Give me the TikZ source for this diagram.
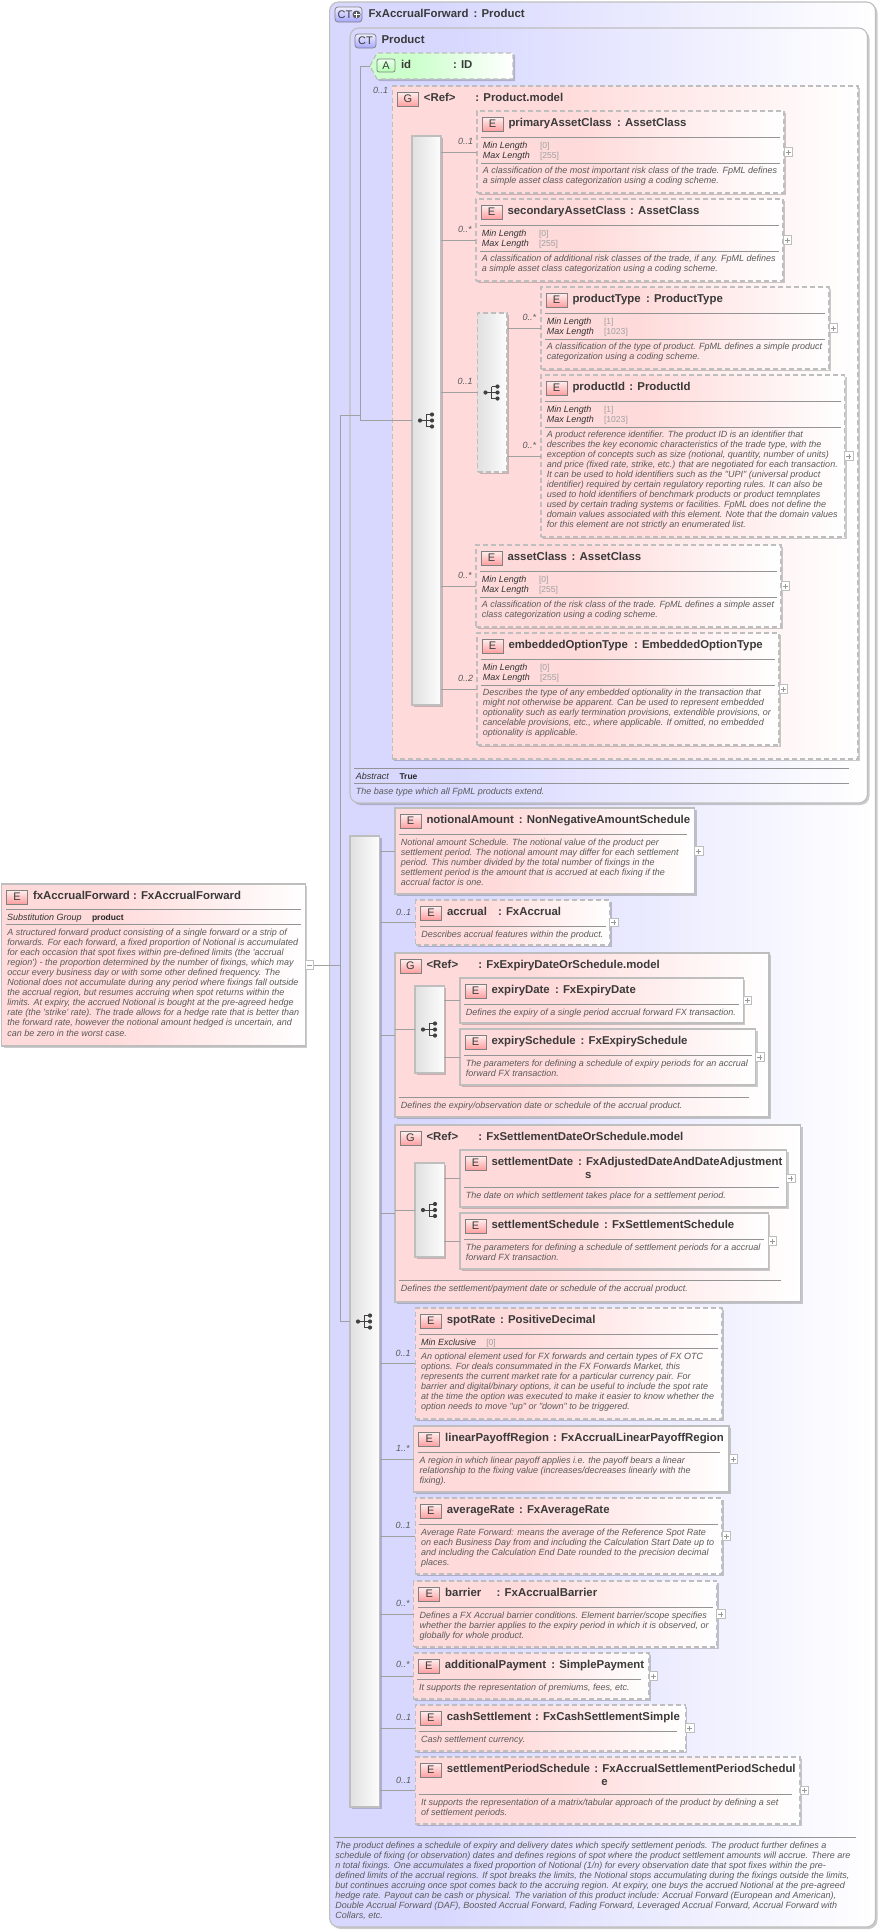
\documentclass[tikz,border=0pt]{standalone}
\usepackage{fontspec}
\usetikzlibrary{shadows}
\newfontfamily\lsans{Liberation Sans}
\definecolor{pk}{HTML}{FFDADA}
\definecolor{bl}{HTML}{D8D8FF}
\definecolor{gn}{HTML}{CCFFCC}
\definecolor{bord}{HTML}{BEBEBE}
\definecolor{conn}{HTML}{A0A0A0}
\definecolor{namec}{HTML}{3A3A3A}
\definecolor{descc}{HTML}{5A5A5A}
\definecolor{facc}{HTML}{333333}
\definecolor{valc}{HTML}{A0A0A0}
\pgfdeclarehorizontalshading{pinkshade}{100bp}{color(0bp)=(pk); color(25bp)=(pk); color(42bp)=(pk); color(75bp)=(white); color(100bp)=(white)}
\pgfdeclarehorizontalshading{blueshade}{100bp}{color(0bp)=(bl); color(25bp)=(bl); color(35bp)=(bl); color(75bp)=(white); color(100bp)=(white)}
\pgfdeclarehorizontalshading{greenshade}{100bp}{color(0bp)=(gn); color(25bp)=(gn); color(40bp)=(gn); color(75bp)=(white); color(100bp)=(white)}
\tikzset{
  bxbase/.style={inner sep=0pt,outer sep=0pt,anchor=north west,draw=bord,line width=1.1pt,
    drop shadow={shadow xshift=2pt,shadow yshift=-2pt,opacity=.2,fill=black}},
  solidpink/.style={bxbase,shade,shading=pinkshade},
  dashpink/.style={bxbase,shade,shading=pinkshade,dash pattern=on 5pt off 3pt},
  ctbox/.style={bxbase,shade,shading=blueshade,rounded corners=9pt},
  seqsolid/.style={bxbase,left color=black!12,right color=black!1},
  seqdash/.style={bxbase,left color=black!12,right color=black!1,dash pattern=on 5pt off 3pt},
  iconbase/.style={inner sep=0pt,outer sep=0pt,anchor=north west,minimum width=21pt,minimum height=14pt,draw=black!50,line width=.7pt,text=namec,font=\lsans\fontsize{11}{11}\selectfont},
  eicon/.style={iconbase,top color=red!6,bottom color=red!38},
  cticon/.style={iconbase,top color=blue!6,bottom color=blue!35,rounded corners=3pt},
  aicon/.style={iconbase,minimum width=18pt,top color=green!8,bottom color=green!30,rounded corners=2pt},
  nametext/.style={inner sep=0pt,outer sep=0pt,anchor=base west,text=namec,font=\lsans\bfseries\fontsize{11.4}{11.4}\selectfont},
  desctext/.style={inner sep=0pt,outer sep=0pt,anchor=north west,align=left,text=descc,font=\lsans\itshape\fontsize{9}{10.1}\selectfont},
  factext/.style={inner sep=0pt,outer sep=0pt,anchor=base west,text=facc,font=\lsans\itshape\fontsize{9}{10}\selectfont},
  valtext/.style={inner sep=0pt,outer sep=0pt,anchor=base west,text=valc,font=\lsans\fontsize{8.6}{10}\selectfont},
  boldval/.style={inner sep=0pt,outer sep=0pt,anchor=base west,text=black!85,font=\lsans\bfseries\fontsize{8.5}{10}\selectfont},
  multtext/.style={inner sep=0pt,outer sep=0pt,anchor=base west,text=descc,font=\lsans\itshape\fontsize{9}{10}\selectfont},
  conline/.style={draw=conn,line width=.8pt},
  sepline/.style={draw=black!42,line width=.7pt},
  plusbox/.style={inner sep=0pt,outer sep=0pt,anchor=west,minimum size=8.5pt,draw=bord,fill=white,line width=.7pt},
  pluslin/.style={draw=black!40,line width=.6pt}
}
\newcounter{tn}
\newcommand\bx[6]{%
  \pgfmathsetmacro\bw{#4-#2}\pgfmathsetmacro\bh{#5-#3}%
  \node[#6,minimum width=\bw pt,minimum height=\bh pt] (#1) at (#2,#3) {};%
  \def\cn{#1}\def\cx{#2}\def\cy{#3}\def\cX{#4}}
\newcommand\hd[5]{%
  \stepcounter{tn}%
  \node[#1] (ic\arabic{tn}) at ({\cx+5},{\cy+6}) {#2};%
  \node[nametext] (ti\arabic{tn}) at ({\cx+31.5},{\cy+15}) {#3};%
  \node[nametext] (ty\arabic{tn}) at (#4,{\cy+15}) {#5};}
\newcommand\hdx[2]{\stepcounter{tn}\node[nametext] (tz\arabic{tn}) at (#1,{\cy+28}) {#2};}
\newcommand\seph[2]{\draw[sepline] ({\cx+4},{\cy+#1}) -- ({\cX-#2},{\cy+#1});}
\newcommand\desc[2]{\stepcounter{tn}\node[desctext] (de\arabic{tn}) at ({\cx+5.8},{\cy+#1-3.5}) {\rule{0pt}{6.5pt}#2};}
\newcommand\facet[4]{\stepcounter{tn}%
  \node[factext] (fa\arabic{tn}) at ({\cx+5.8},{\cy+#1+3}) {#2};%
  \node[valtext] (va\arabic{tn}) at ({\cx+#3},{\cy+#1+3}) {#4};}
\newcommand\lenfacets[2]{\facet{34}{Min Length}{63}{[#1]}\facet{44}{Max Length}{63}{[#2]}}
\newcommand\plusn[1]{\node[plusbox] (#1-p) at (#1.east) {};
  \draw[pluslin] ([xshift=-2.5pt]#1-p.center) -- ([xshift=2.5pt]#1-p.center);
  \draw[pluslin] ([yshift=-2.5pt]#1-p.center) -- ([yshift=2.5pt]#1-p.center);}
\newcommand\mult[4]{\node[multtext] (#1) at (#2,#3) {#4};}
\newcommand\sqb[6]{\bx{#1}{#2}{#3}{#4}{#5}{#6}%
  \pgfmathsetmacro\iy{(#3+#5)/2}\pgfmathsetmacro\ix{#2+6}%
  \fill[black!75] (\ix+2,\iy) circle (2.1pt);
  \fill[black!75] (\ix+14,\iy-6) circle (2.1pt) (\ix+14,\iy) circle (2.1pt) (\ix+14,\iy+6) circle (2.1pt);
  \draw[black!75,line width=.8pt] (\ix+2,\iy) -- (\ix+8,\iy) (\ix+8,\iy-6) -- (\ix+8,\iy+6) (\ix+8,\iy-6) -- (\ix+14,\iy-6) (\ix+8,\iy+6) -- (\ix+14,\iy+6) (\ix+8,\iy) -- (\ix+14,\iy);}
\begin{document}
\begin{tikzpicture}[x=1pt,y=-1pt]
\useasboundingbox (0,0) rectangle (879,1931);
% root element
\bx{fx}{1.5}{884}{305.3}{1046}{solidpink}
\hd{eicon}{E}{fxAccrualForward}{133}{: FxAccrualForward}
\seph{25}{4}
\stepcounter{tn}
\node[factext] (subst) at (7,920) {Substitution Group};
\node[boldval] (substv) at (92,920) {product};
\seph{40}{4}
\desc{48}{A structured forward product consisting of a single forward or a strip of\\forwards. For each forward, a fixed proportion of Notional is accumulated\\for each occasion that spot fixes within pre-defined limits (the 'accrual\\region') - the proportion determined by the number of fixings, which may\\occur every business day or with some other defined frequency. The\\Notional does not accumulate during any period where fixings fall outside\\the accrual region, but resumes accruing when spot returns within the\\limits. At expiry, the accrued Notional is bought at the pre-agreed hedge\\rate (the 'strike' rate). The trade allows for a hedge rate that is better than\\the forward rate, however the notional amount hedged is uncertain, and\\can be zero in the worst case.}
\node[plusbox] (fxm) at (fx.east) {};
\draw[pluslin] ([xshift=-2.5pt]fxm.center) -- ([xshift=2.5pt]fxm.center);
% outer complex type
\bx{ct}{329.6}{2}{875.5}{1927}{ctbox}
\node[cticon,minimum width=27pt,minimum height=15pt] (cti) at (335,7) {\hspace*{-7pt}CT};
\fill[black!65] (356.5,14.5) circle (4pt);
\draw[white,line width=.9pt] (353.5,14.5) -- (359.5,14.5) (356.5,11.5) -- (356.5,17.5);
\node[nametext] (ctn) at (368.5,17) {FxAccrualForward};
\node[nametext] (ctt) at (473.6,17) {: Product};
\seph{1835}{19.5}
\desc{1843}{The product defines a schedule of expiry and delivery dates which specify settlement periods. The product further defines a\\schedule of fixing (or observation) dates and defines regions of spot where the product settlement amounts will accrue. There are\\n total fixings. One accumulates a fixed proportion of Notional (1/n) for every observation date that spot fixes within the pre-\\defined limits of the accrual regions. If spot breaks the limits, the Notional stops accumulating during the fixings outside the limits,\\but continues accruing once spot comes back to the accruing region. At expiry, one buys the accrued Notional at the pre-agreed\\hedge rate. Payout can be cash or physical. The variation of this product include: Accrual Forward (European and American),\\Double Accrual Forward (DAF), Boosted Accrual Forward, Fading Forward, Leveraged Accrual Forward, Accrual Forward with\\Collars, etc.}
% Product
\bx{prod}{350}{28}{867.5}{803}{ctbox}
\hd{cticon}{CT}{Product}{381}{}
\seph{740}{19}
\facet{748}{Abstract}{49.5}{}
\node[boldval] (abv) at (399.5,779) {True};
\seph{755}{19}
\desc{763}{The base type which all FpML products extend.}
% id attribute
\path[shade,shading=greenshade,draw=bord,line width=1.1pt,dash pattern=on 5pt off 3pt,drop shadow={shadow xshift=2pt,shadow yshift=-2pt,opacity=.2,fill=black}] (370,66) -- (377,53) -- (513,53) -- (513,79) -- (377,79) -- cycle;
\coordinate (idtip) at (370,66);
\node[aicon,minimum height=13pt] (aic) at (377,59) {A};
\node[nametext] (idn) at (401,68) {id};
\node[nametext] (idt) at (453,68) {: ID};
% Product.model
\bx{pm}{392.4}{86}{858}{759}{dashpink}
\hd{eicon}{G}{<Ref>}{475.4}{: Product.model}
\mult{m0}{373}{93}{0..1}
\sqb{pseq}{412}{136}{441}{705}{seqsolid}
\bx{primary}{477}{111}{784}{193}{dashpink}
\hd{eicon}{E}{primaryAssetClass}{617}{: AssetClass}
\seph{26}{4}\lenfacets{0}{255}\seph{52}{4}
\desc{59}{A classification of the most important risk class of the trade. FpML defines\\a simple asset class categorization using a coding scheme.}
\plusn{primary}
\mult{m1}{458}{144}{0..1}
\bx{secondary}{476}{199}{783}{281}{dashpink}
\hd{eicon}{E}{secondaryAssetClass}{630}{: AssetClass}
\seph{26}{4}\lenfacets{0}{255}\seph{52}{4}
\desc{59}{A classification of additional risk classes of the trade, if any. FpML defines\\a simple asset class categorization using a coding scheme.}
\plusn{secondary}
\mult{m2}{458}{232}{0..*}
\sqb{cseq}{477.5}{313}{507}{472}{seqdash}
\mult{m3}{457.5}{384}{0..1}
\bx{ptype}{541}{287}{829}{369}{dashpink}
\hd{eicon}{E}{productType}{646}{: ProductType}
\seph{26}{4}\lenfacets{1}{1023}\seph{52}{4}
\desc{59}{A classification of the type of product. FpML defines a simple product\\categorization using a coding scheme.}
\plusn{ptype}
\mult{m4}{522.5}{320}{0..*}
\bx{pid}{541}{375}{844.6}{537}{dashpink}
\hd{eicon}{E}{productId}{629.4}{: ProductId}
\seph{26}{4}\lenfacets{1}{1023}\seph{52}{4}
\desc{59}{A product reference identifier. The product ID is an identifier that\\describes the key economic characteristics of the trade type, with the\\exception of concepts such as size (notional, quantity, number of units)\\and price (fixed rate, strike, etc.) that are negotiated for each transaction.\\It can be used to hold identifiers such as the "UPI" (universal product\\identifier) required by certain regulatory reporting rules. It can also be\\used to hold identifiers of benchmark products or product temnplates\\used by certain trading systems or facilities. FpML does not define the\\domain values associated with this element. Note that the domain values\\for this element are not strictly an enumerated list.}
\plusn{pid}
\mult{m5}{522.5}{448}{0..*}
\bx{aclass}{476}{545}{781}{627}{dashpink}
\hd{eicon}{E}{assetClass}{571.7}{: AssetClass}
\seph{26}{4}\lenfacets{0}{255}\seph{52}{4}
\desc{59}{A classification of the risk class of the trade. FpML defines a simple asset\\class categorization using a coding scheme.}
\plusn{aclass}
\mult{m6}{458}{578}{0..*}
\bx{eopt}{477}{633}{779}{745}{dashpink}
\hd{eicon}{E}{embeddedOptionType}{634}{: EmbeddedOptionType}
\seph{26}{4}\lenfacets{0}{255}\seph{52}{4}
\desc{59}{Describes the type of any embedded optionality in the transaction that\\might not otherwise be apparent. Can be used to represent embedded\\optionality such as early termination provisions, extendible provisions, or\\cancelable provisions, etc., where applicable. If omitted, no embedded\\optionality is applicable.}
\plusn{eopt}
\mult{m7}{458}{681}{0..2}
% main sequence
\sqb{mseq}{350}{836}{379.5}{1807}{seqsolid}
\bx{notional}{395}{808}{694.5}{894}{solidpink}
\hd{eicon}{E}{notionalAmount}{518.8}{: NonNegativeAmountSchedule}
\seph{26}{8}
\desc{34}{Notional amount Schedule. The notional value of the product per\\settlement period. The notional amount may differ for each settlement\\period. This number divided by the total number of fixings in the\\settlement period is the amount that is accrued at each fixing if the\\accrual factor is one.}
\plusn{notional}
\bx{accrual}{415.5}{900}{609.7}{945}{dashpink}
\hd{eicon}{E}{accrual}{498}{: FxAccrual}
\seph{26}{4}
\desc{34}{Describes accrual features within the product.}
\plusn{accrual}
\mult{m8}{396}{915}{0..1}
% expiry group
\bx{gexp}{395}{953}{769}{1117}{solidpink}
\hd{eicon}{G}{<Ref>}{478.3}{: FxExpiryDateOrSchedule.model}
\seph{144}{19.7}
\desc{152}{Defines the expiry/observation date or schedule of the accrual product.}
\sqb{eseq}{415}{986}{444.3}{1073}{seqsolid}
\bx{edate}{460}{978}{743.3}{1023}{solidpink}
\hd{eicon}{E}{expiryDate}{555}{: FxExpiryDate}
\seph{26}{4}
\desc{34}{Defines the expiry of a single period accrual forward FX transaction.}
\plusn{edate}
\bx{esched}{460}{1029}{755.7}{1085}{solidpink}
\hd{eicon}{E}{expirySchedule}{580.7}{: FxExpirySchedule}
\seph{26}{4}
\desc{34}{The parameters for defining a schedule of expiry periods for an accrual\\forward FX transaction.}
\plusn{esched}
% settlement group
\bx{gset}{395}{1125}{800.7}{1302}{solidpink}
\hd{eicon}{G}{<Ref>}{478.3}{: FxSettlementDateOrSchedule.model}
\seph{155}{20}
\desc{163}{Defines the settlement/payment date or schedule of the accrual product.}
\sqb{sseq}{415}{1163}{444.3}{1257}{seqsolid}
\bx{sdate}{460}{1150}{786.7}{1207}{solidpink}
\hd{eicon}{E}{settlementDate}{578}{: FxAdjustedDateAndDateAdjustment}
\hdx{585}{s}
\seph{37}{8}
\desc{45}{The date on which settlement takes place for a settlement period.}
\plusn{sdate}
\bx{ssched}{460}{1213}{768.3}{1269}{solidpink}
\hd{eicon}{E}{settlementSchedule}{604}{: FxSettlementSchedule}
\seph{26}{4}
\desc{34}{The parameters for defining a schedule of settlement periods for a accrual\\forward FX transaction.}
\plusn{ssched}
% remaining elements
\bx{spot}{415.3}{1308}{722}{1419}{dashpink}
\hd{eicon}{E}{spotRate}{500}{: PositiveDecimal}
\seph{26}{4}
\facet{34}{Min Exclusive}{71}{[0]}
\seph{40}{4}
\desc{48}{An optional element used for FX forwards and certain types of FX OTC\\options. For deals consummated in the FX Forwards Market, this\\represents the current market rate for a particular currency pair. For\\barrier and digital/binary options, it can be useful to include the spot rate\\at the time the option was executed to make it easier to know whether the\\option needs to move "up" or "down" to be triggered.}
\mult{m9}{395.7}{1356}{0..1}
\bx{linear}{413.7}{1426}{729}{1492}{solidpink}
\hd{eicon}{E}{linearPayoffRegion}{553}{: FxAccrualLinearPayoffRegion}
\seph{26}{9}
\desc{34}{A region in which linear payoff applies i.e. the payoff bears a linear\\relationship to the fixing value (increases/decreases linearly with the\\fixing).}
\plusn{linear}
\mult{m10}{396}{1451}{1..*}
\bx{avg}{415.3}{1498}{722}{1574}{dashpink}
\hd{eicon}{E}{averageRate}{519}{: FxAverageRate}
\seph{26}{4}
\desc{34}{Average Rate Forward: means the average of the Reference Spot Rate\\on each Business Day from and including the Calculation Start Date up to\\and including the Calculation End Date rounded to the precision decimal\\places.}
\plusn{avg}
\mult{m11}{395.7}{1528}{0..1}
\bx{barrier}{413.7}{1581}{716.7}{1647}{dashpink}
\hd{eicon}{E}{barrier}{496.7}{: FxAccrualBarrier}
\seph{26}{4}
\desc{34}{Defines a FX Accrual barrier conditions. Element barrier/scope specifies\\whether the barrier applies to the expiry period in which it is observed, or\\globally for whole product.}
\plusn{barrier}
\mult{m12}{396}{1606}{0..*}
\bx{addp}{413.3}{1653}{649}{1699}{dashpink}
\hd{eicon}{E}{additionalPayment}{551.3}{: SimplePayment}
\seph{26}{8}
\desc{34}{It supports the representation of premiums, fees, etc.}
\plusn{addp}
\mult{m13}{396}{1667}{0..*}
\bx{cash}{415.4}{1705}{685.4}{1751}{dashpink}
\hd{eicon}{E}{cashSettlement}{535}{: FxCashSettlementSimple}
\seph{26}{8}
\desc{34}{Cash settlement currency.}
\plusn{cash}
\mult{m14}{396}{1720}{0..1}
\bx{spsched}{415.4}{1757}{800}{1824}{dashpink}
\hd{eicon}{E}{settlementPeriodSchedule}{594.4}{: FxAccrualSettlementPeriodSchedul}
\hdx{601.4}{e}
\seph{37}{8}
\desc{45}{It supports the representation of a matrix/tabular approach of the product by defining a set\\of settlement periods.}
\plusn{spsched}
\mult{m15}{396}{1783}{0..1}
% connectors
\coordinate (rootj) at (340,965);
\coordinate (jtop) at (340,415);
\coordinate (jprod) at (360,415);
\draw[conline] (fxm.east) -- (rootj);
\draw[conline] (jprod) -- (jtop) -- (mseq.west -| jtop) -- (mseq.west);
\draw[conline] (idtip) -- (idtip -| jprod) -- (pseq.west -| jprod) -- (pseq.west);
\foreach \e in {primary,secondary,aclass,eopt} \draw[conline] (\e.west) -- (pseq.east |- \e.west);
\draw[conline] (cseq.west) -- (pseq.east |- cseq.west);
\foreach \e in {ptype,pid} \draw[conline] (\e.west) -- (cseq.east |- \e.west);
\foreach \e in {notional,accrual,gexp,gset,spot,linear,avg,barrier,addp,cash,spsched} \draw[conline] (\e.west) -- (mseq.east |- \e.west);
\draw[conline] (eseq.west) -- (gexp.west |- eseq.west);
\draw[conline] (sseq.west) -- (gset.west |- sseq.west);
\foreach \e in {edate,esched} \draw[conline] (\e.west) -- (eseq.east |- \e.west);
\foreach \e in {sdate,ssched} \draw[conline] (\e.west) -- (sseq.east |- \e.west);
\end{tikzpicture}
\end{document}
